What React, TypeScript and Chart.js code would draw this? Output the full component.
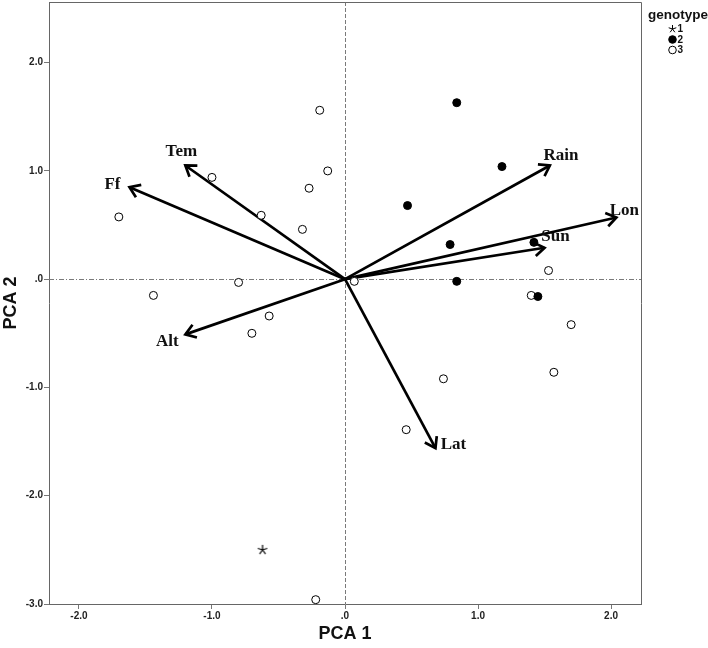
import React, { useEffect, useRef } from 'react';
import { Chart, registerables } from 'chart.js';

Chart.register(...registerables);

// ---- data ----
const xTicks = [-2, -1, 0, 1, 2];
const yTicks = [-3, -2, -1, 0, 1, 2];
const xMin = -2.225;
const xMax = 2.225;
const yMin = -3;
const yMax = 2.56;

const xTitle = 'PCA 1';
const yTitle = 'PCA 2';
const legendTitle = 'genotype';
const genotypeLabels = ['1', '2', '3'];

const g1X = [-0.62];
const g1Y = [-2.5];

const g2X = [0.84, 1.18, 0.47, 0.79, 1.42, 0.84, 1.45];
const g2Y = [1.63, 1.04, 0.68, 0.32, 0.34, -0.02, -0.16];

const g3X = [-0.19, -0.13, -1.0, -0.27, -1.7, -0.63, -0.32, 0.07, -0.8, -1.44, -0.57, -0.7, 1.53, 1.4, 1.7, 1.57, 0.74, 0.46, -0.22];
const g3Y = [1.56, 1.0, 0.94, 0.84, 0.575, 0.59, 0.46, -0.02, -0.03, -0.15, -0.34, -0.5, 0.08, -0.15, -0.42, -0.86, -0.92, -1.39, -2.96];

const vectorNames = ['Tem', 'Ff', 'Alt', 'Rain', 'Lon', 'Sun', 'Lat'];
const vectorX = [-1.2, -1.62, -1.2, 1.54, 2.04, 1.5, 0.68];
const vectorY = [1.05, 0.85, -0.51, 1.05, 0.57, 0.29, -1.56];

// ---- layout / style (label offsets in px from arrow tips) ----
const labelOffsets: Record<string, [number, number]> = {
  Tem: [-4, -14],
  Ff: [-17, -3],
  Alt: [-18, 7],
  Rain: [11, -10],
  Lon: [8, -7],
  Sun: [11, -11],
  Lat: [18, -3],
};

const fmt = (v: number) => (v === 0 ? '.0' : v.toFixed(1));
const pts = (xs: number[], ys: number[]) => xs.map((v, i) => ({ x: v, y: ys[i] }));

function drawStar(ctx: CanvasRenderingContext2D, cx: number, cy: number, r: number) {
  ctx.beginPath();
  for (let k = 0; k < 5; k++) {
    const a = -Math.PI / 2 + (k * 2 * Math.PI) / 5;
    ctx.moveTo(cx, cy);
    ctx.lineTo(cx + r * Math.cos(a), cy + r * Math.sin(a));
  }
  ctx.stroke();
}

function makeStarCanvas(r: number) {
  const c = document.createElement('canvas');
  const s = Math.ceil(r * 2 + 2);
  c.width = s;
  c.height = s;
  const ctx = c.getContext('2d');
  if (ctx) {
    ctx.strokeStyle = '#000';
    ctx.lineWidth = 1.2;
    drawStar(ctx, s / 2, s / 2, r);
  }
  return c;
}

const decorPlugin = {
  id: 'decor',
  beforeDatasetsDraw(chart: any) {
    const { ctx, chartArea: ca, scales } = chart;
    const x0 = scales.x.getPixelForValue(0);
    const y0 = scales.y.getPixelForValue(0);
    ctx.save();
    ctx.strokeStyle = '#7a7a7a';
    ctx.lineWidth = 1;
    ctx.setLineDash([4, 2]);
    ctx.beginPath();
    ctx.moveTo(Math.round(x0) + 0.5, ca.top);
    ctx.lineTo(Math.round(x0) + 0.5, ca.bottom);
    ctx.stroke();
    ctx.setLineDash([5, 2, 1, 2]);
    ctx.beginPath();
    ctx.moveTo(ca.left, Math.round(y0) + 0.5);
    ctx.lineTo(ca.right, Math.round(y0) + 0.5);
    ctx.stroke();
    ctx.restore();
  },
  afterDatasetsDraw(chart: any) {
    const { ctx, scales } = chart;
    const xs = scales.x;
    const ys = scales.y;
    const x0 = xs.getPixelForValue(0);
    const y0 = ys.getPixelForValue(0);
    ctx.save();
    vectorNames.forEach((name, i) => {
      const tx = xs.getPixelForValue(vectorX[i]);
      const ty = ys.getPixelForValue(vectorY[i]);
      const ang = Math.atan2(ty - y0, tx - x0);
      const L = 12;
      const a = 0.6;
      ctx.beginPath();
      ctx.moveTo(tx - L * Math.cos(ang - a), ty - L * Math.sin(ang - a));
      ctx.lineTo(tx, ty);
      ctx.lineTo(tx - L * Math.cos(ang + a), ty - L * Math.sin(ang + a));
      ctx.lineWidth = 2.7;
      ctx.strokeStyle = '#000';
      ctx.lineJoin = 'miter';
      ctx.stroke();
      const off = labelOffsets[name] || [0, 0];
      ctx.fillStyle = '#111';
      ctx.font = 'bold 17px "Liberation Serif", "Times New Roman", serif';
      ctx.textAlign = 'center';
      ctx.textBaseline = 'middle';
      ctx.fillText(name, tx + off[0], ty + off[1]);
    });
    ctx.restore();
  },
  afterDraw(chart: any) {
    const { ctx, chartArea: ca } = chart;
    ctx.save();
    ctx.strokeStyle = '#666';
    ctx.lineWidth = 1;
    ctx.beginPath();
    ctx.moveTo(Math.round(ca.left) + 0.5, Math.round(ca.top) + 0.5);
    ctx.lineTo(Math.round(ca.right) + 0.5, Math.round(ca.top) + 0.5);
    ctx.lineTo(Math.round(ca.right) + 0.5, Math.round(ca.bottom) + 0.5);
    ctx.stroke();

    // legend
    const lx = ca.right + 37;
    ctx.fillStyle = '#111';
    ctx.font = 'bold 13.5px "Liberation Sans", Arial, sans-serif';
    ctx.textAlign = 'center';
    ctx.textBaseline = 'middle';
    ctx.fillText(legendTitle, lx, 15);
    ctx.font = 'bold 10px "Liberation Sans", Arial, sans-serif';
    ctx.textAlign = 'left';
    const rows = [29, 39.5, 50];
    genotypeLabels.forEach((lab, i) => {
      const sx = ca.right + 31.5;
      const sy = rows[i];
      ctx.strokeStyle = '#000';
      ctx.lineWidth = 1;
      if (i === 0) {
        drawStar(ctx, sx, sy, 4);
      } else {
        ctx.beginPath();
        ctx.arc(sx, sy, 3.8, 0, Math.PI * 2);
        ctx.fillStyle = i === 1 ? '#000' : '#fff';
        ctx.fill();
        ctx.stroke();
      }
      ctx.fillStyle = '#111';
      ctx.fillText(lab, sx + 5, sy + 0.5);
    });
    ctx.restore();
  },
};

export default function App() {
  const ref = useRef<HTMLCanvasElement | null>(null);

  useEffect(() => {
    if (!ref.current) return;
    const arrowSets = vectorNames.map((name, i) => ({
      label: name,
      data: [
        { x: 0, y: 0 },
        { x: vectorX[i], y: vectorY[i] },
      ],
      showLine: true,
      borderColor: '#000',
      borderWidth: 2.7,
      pointRadius: 0,
      order: 2,
    }));
    const starImg = makeStarCanvas(5);
    const chart = new Chart(ref.current, {
      type: 'scatter',
      data: {
        datasets: [
          ...arrowSets,
          {
            label: genotypeLabels[2],
            data: pts(g3X, g3Y),
            pointStyle: 'circle',
            pointRadius: 4,
            backgroundColor: '#fff',
            borderColor: '#000',
            borderWidth: 1,
            order: 1,
          },
          {
            label: genotypeLabels[1],
            data: pts(g2X, g2Y),
            pointStyle: 'circle',
            pointRadius: 4,
            backgroundColor: '#000',
            borderColor: '#000',
            borderWidth: 1,
            order: 0,
          },
          {
            label: genotypeLabels[0],
            data: pts(g1X, g1Y),
            pointStyle: starImg,
            pointRadius: 5,
            backgroundColor: '#000',
            borderColor: '#000',
            borderWidth: 1,
            order: 0,
          },
        ] as any,
      },
      options: {
        responsive: false,
        animation: false,
        devicePixelRatio: 1,
        layout: { autoPadding: false, padding: { top: 2, right: 67, left: 0, bottom: 0 } },
        plugins: {
          legend: { display: false },
          tooltip: { enabled: false },
        },
        scales: {
          x: {
            type: 'linear',
            min: xMin,
            max: xMax,
            afterBuildTicks: (s: any) => {
              s.ticks = xTicks.map((v) => ({ value: v }));
            },
            afterFit: (s: any) => {
              s.height = 44;
              s.paddingLeft = 0;
              s.paddingRight = 0;
            },
            ticks: {
              callback: (v: any) => fmt(Number(v)),
              font: { family: '"Liberation Sans", Arial, sans-serif', weight: 'bold', size: 10 },
              color: '#222',
              padding: 1,
              maxRotation: 0,
              autoSkip: false,
            },
            grid: { drawOnChartArea: false, drawTicks: true, tickLength: 5, color: '#777' },
            border: { display: true, color: '#666', width: 1 },
            title: {
              display: true,
              text: xTitle,
              font: { family: '"Liberation Sans", Arial, sans-serif', weight: 'bold', size: 18 },
              color: '#111',
              padding: { top: 0, bottom: 3 },
            },
          },
          y: {
            type: 'linear',
            min: yMin,
            max: yMax,
            afterBuildTicks: (s: any) => {
              s.ticks = yTicks.map((v) => ({ value: v }));
            },
            afterFit: (s: any) => {
              s.width = 49;
              s.paddingTop = 0;
              s.paddingBottom = 0;
            },
            ticks: {
              callback: (v: any) => fmt(Number(v)),
              font: { family: '"Liberation Sans", Arial, sans-serif', weight: 'bold', size: 10 },
              color: '#222',
              padding: 1,
              autoSkip: false,
            },
            grid: { drawOnChartArea: false, drawTicks: true, tickLength: 5, color: '#777' },
            border: { display: true, color: '#666', width: 1 },
            title: {
              display: true,
              text: yTitle,
              font: { family: '"Liberation Sans", Arial, sans-serif', weight: 'bold', size: 18 },
              color: '#111',
              padding: { top: 0, bottom: 0 },
            },
          },
        },
      } as any,
      plugins: [decorPlugin],
    });
    return () => chart.destroy();
  }, []);

  return (
    <div style={{ position: 'fixed', left: 0, top: 0, width: 708, height: 648, background: '#fff' }}>
      <canvas ref={ref} width={708} height={648} style={{ display: 'block' }} />
    </div>
  );
}
